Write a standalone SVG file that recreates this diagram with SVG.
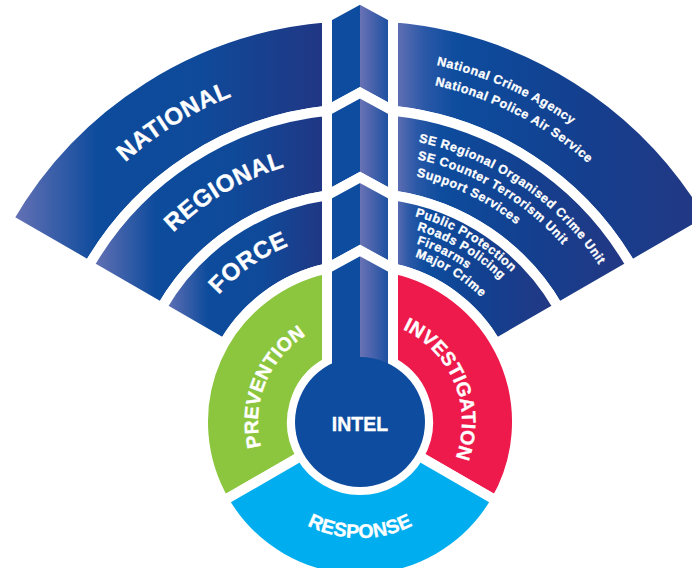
<svg xmlns="http://www.w3.org/2000/svg" width="692" height="568" viewBox="0 0 692 568">
<style>
.w{stroke:#fff;stroke-width:10;stroke-linejoin:miter}
.t{font-family:"Liberation Sans",Arial,Helvetica,sans-serif;font-weight:bold;fill:#fff;stroke:#fff;stroke-width:0.35px}
.big{font-size:24px;letter-spacing:0.5px}
.ring{font-size:19.5px;letter-spacing:0.2px}
.small{font-size:12.5px;letter-spacing:0.6px;stroke-width:0.3px}
</style>
<defs>
<linearGradient id="gL" x1="0" y1="0" x2="1" y2="0">
<stop offset="0" stop-color="#6b74b7"/>
<stop offset="0.28" stop-color="#0d4b9c"/>
<stop offset="0.6" stop-color="#0f4a9a"/>
<stop offset="1" stop-color="#213683"/>
</linearGradient>
<linearGradient id="gR" x1="0" y1="0" x2="1" y2="0">
<stop offset="0" stop-color="#6872b5"/>
<stop offset="0.1" stop-color="#2a58a7"/>
<stop offset="0.2" stop-color="#0d4c9e"/>
<stop offset="0.6" stop-color="#143f8e"/>
<stop offset="1" stop-color="#243783"/>
</linearGradient>
<linearGradient id="gS" x1="0" y1="0" x2="1" y2="0">
<stop offset="0" stop-color="#0d4c9e"/>
<stop offset="0.5" stop-color="#0d4c9e"/>
<stop offset="0.5" stop-color="#6a72b5"/>
<stop offset="0.75" stop-color="#3d5ea9"/>
<stop offset="1" stop-color="#0f4c9e"/>
</linearGradient>
<path id="pNat" d="M31.1,302.3 A350,350 0 0 1 390.5,73.3"/>
<path id="pReg" d="M113.4,322.4 A266,266 0 0 1 392.4,158"/>
<path id="pFor" d="M181.5,357 A190,190 0 0 1 360,232"/>
<path id="pN1" d="M436.5,65.1 A365,365 0 0 1 690.8,267.8"/>
<path id="pN2" d="M434.7,85.2 A345,345 0 0 1 672.7,276.2"/>
<path id="pR1" d="M418.5,142 A286,286 0 0 1 628.8,324.2"/>
<path id="pR2" d="M417.3,159.2 A269,269 0 0 1 612.8,330"/>
<path id="pR3" d="M416.3,176.4 A252,252 0 0 1 596.8,335.8"/>
<path id="pF1" d="M415.1,216.3 A213,213 0 0 1 565.7,366.9"/>
<path id="pF2" d="M416.8,230.2 A200,200 0 0 1 553.2,370.2"/>
<path id="pF3" d="M416.5,243.7 A187,187 0 0 1 540.6,373.6"/>
<path id="pF4" d="M414.9,256.9 A174,174 0 0 1 528.1,377"/>
<path id="pPrev" d="M279.6,484.8 A102,102 0 0 1 345.8,321"/>
<path id="pInv" d="M373.7,320.9 A102,102 0 0 1 440.7,484.4"/>
<path id="pResp" d="M259.5,480 A116,116 0 0 0 460.5,480"/>
</defs>

<g id="national">
<path class="w" fill="url(#gL)" d="M8.4,219 A406,406 0 0 1 327,17.34 L327,110.74 A313,313 0 0 0 88.93,265.5 Z"/>
<path class="w" fill="url(#gR)" d="M393,17.34 A406,406 0 0 1 711.6,219 L631.07,265.5 A313,313 0 0 0 393,110.74 Z"/>
</g>
<g id="regional">
<path class="w" fill="url(#gL)" d="M88.93,265.5 A313,313 0 0 1 327,110.74 L327,195.39 A229,229 0 0 0 161.68,307.5 Z"/>
<path class="w" fill="url(#gR)" d="M393,110.74 A313,313 0 0 1 631.07,265.5 L558.32,307.5 A229,229 0 0 0 393,195.39 Z"/>
</g>
<g id="force">
<path class="w" fill="url(#gL)" d="M161.68,307.5 A229,229 0 0 1 327,195.39 L327,268.51 A157,157 0 0 0 224.03,343.5 Z"/>
<path class="w" fill="url(#gR)" d="M393,195.39 A229,229 0 0 1 558.32,307.5 L495.97,343.5 A157,157 0 0 0 393,268.51 Z"/>
</g>
<g id="stem">
<path class="w" fill="url(#gS)" d="M327,17 L360,-1 L393,17 L393,110.74 L360,92.74 L327,110.74 Z"/>
<path class="w" fill="url(#gS)" d="M327,110.74 L360,92.74 L393,110.74 L393,195.39 L360,177.39 L327,195.39 Z"/>
<path class="w" fill="url(#gS)" d="M327,195.39 L360,177.39 L393,195.39 L393,268.51 L360,250.51 L327,268.51 Z"/>
<path class="w" fill="url(#gS)" d="M327,268.51 L360,250.51 L393,268.51 L393,400 L327,400 Z"/>
</g>
<g id="prevention">
<path class="w" fill="#8cc63f" d="M224.03,500.5 A157,157 0 0 1 327,268.51 L327,362.54 A68,68 0 0 0 301.11,456 Z"/>
</g>
<g id="investigation">
<path class="w" fill="#ed1a4b" d="M393,268.51 A157,157 0 0 1 495.97,500.5 L418.89,456 A68,68 0 0 0 393,362.54 Z"/>
</g>
<g id="response">
<path class="w" fill="#00aeef" d="M495.97,500.5 A157,157 0 0 1 224.03,500.5 L301.11,456 A68,68 0 0 0 418.89,456 Z"/>
</g>
<g id="intel">
<circle cx="360" cy="422" r="65" fill="#0d4c9e"/>
<text class="t" x="360" y="431" font-size="19.5" text-anchor="middle">INTEL</text>
</g>

<g id="labels">
<text class="t big" text-anchor="middle"><textPath href="#pNat" startOffset="51%">NATIONAL</textPath></text>
<text class="t big" text-anchor="middle"><textPath href="#pReg" startOffset="50%">REGIONAL</textPath></text>
<text class="t big" text-anchor="middle"><textPath href="#pFor" startOffset="50%">FORCE</textPath></text>
<text class="t small"><textPath href="#pN1">National Crime Agency</textPath></text>
<text class="t small"><textPath href="#pN2">National Police Air Service</textPath></text>
<text class="t small"><textPath href="#pR1">SE Regional Organised Crime Unit</textPath></text>
<text class="t small"><textPath href="#pR2">SE Counter Terrorism Unit</textPath></text>
<text class="t small"><textPath href="#pR3">Support Services</textPath></text>
<text class="t small"><textPath href="#pF1">Public Protection</textPath></text>
<text class="t small"><textPath href="#pF2">Roads Policing</textPath></text>
<text class="t small"><textPath href="#pF3">Firearms</textPath></text>
<text class="t small"><textPath href="#pF4">Major Crime</textPath></text>
<text class="t ring" text-anchor="middle"><textPath href="#pPrev" startOffset="50%">PREVENTION</textPath></text>
<text class="t ring" text-anchor="middle"><textPath href="#pInv" startOffset="50%">INVESTIGATION</textPath></text>
<text class="t ring" text-anchor="middle"><textPath href="#pResp" startOffset="50%">RESPONSE</textPath></text>
</g>
</svg>
